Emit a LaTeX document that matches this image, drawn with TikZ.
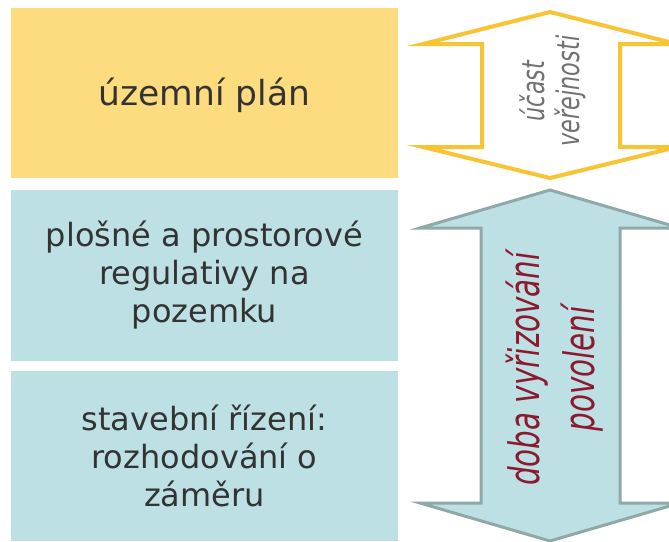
\documentclass[tikz,border=0pt]{standalone}
\usepackage{fontspec}
\setmainfont{DejaVu Sans}
\newfontfamily\narrowfont[FakeStretch=0.72]{DejaVu Sans}
\newfontfamily\narrowerfont[FakeStretch=0.70]{DejaVu Sans}

\definecolor{planyellow}{HTML}{FDDC80}
\definecolor{regteal}{HTML}{BDE0E4}
\definecolor{arrowgold}{HTML}{F9C433}
\definecolor{arrowgrey}{HTML}{8FA9A9}
\definecolor{darktext}{HTML}{333333}
\definecolor{winered}{HTML}{8B1A2E}
\definecolor{paletext}{HTML}{717171}

\begin{document}
\begin{tikzpicture}[x=1pt,y=-1pt,
    stepbox/.style={minimum width=387pt, minimum height=170pt, inner sep=0pt,
        align=center, text=darktext, font=\fontsize{32}{38}\selectfont},
    sidetext/.style={rotate=90, align=center, inner sep=0pt}]

\useasboundingbox (0,0) rectangle (669,541);

% Boxes on the left, one below the other
\node[stepbox, fill=planyellow, font=\fontsize{34.5}{38}\selectfont,
    text depth=3pt] (plan) at (204.5,93) {územní plán};
\node[stepbox, fill=regteal, minimum height=171pt] (reg) at (204.5,275.5)
    {plošné a prostorové\\regulativy na\\pozemku};
\node[stepbox, fill=regteal] (rizeni) at (204.5,456)
    {stavební řízení:\\rozhodování o\\záměru};

% Outlined double arrow next to the plan
\draw[arrowgold, line width=4pt, fill=white]
    (550,12) -- (677,44) -- (620,44) -- (620,147) -- (677,147)
    -- (550,178) -- (423,147) -- (482,147) -- (482,44) -- (423,44) -- cycle;

% Filled double arrow next to the two lower boxes
\draw[arrowgrey, line width=3pt, fill=regteal]
    (550,190) -- (680,228) -- (620,228) -- (620,503) -- (680,503)
    -- (550,541) -- (420,503) -- (481,503) -- (481,228) -- (420,228) -- cycle;

% Rotated labels inside the arrows
\node[sidetext, text=paletext, font=\narrowfont\itshape\fontsize{31}{35}\selectfont]
    (ucast) at (553,91) {účast\\veřejnosti};
\node[sidetext, text=winered, font=\narrowerfont\itshape\fontsize{42}{55}\selectfont]
    (doba) at (555,369) {doba vyřizování\\povolení};

\end{tikzpicture}
\end{document}
